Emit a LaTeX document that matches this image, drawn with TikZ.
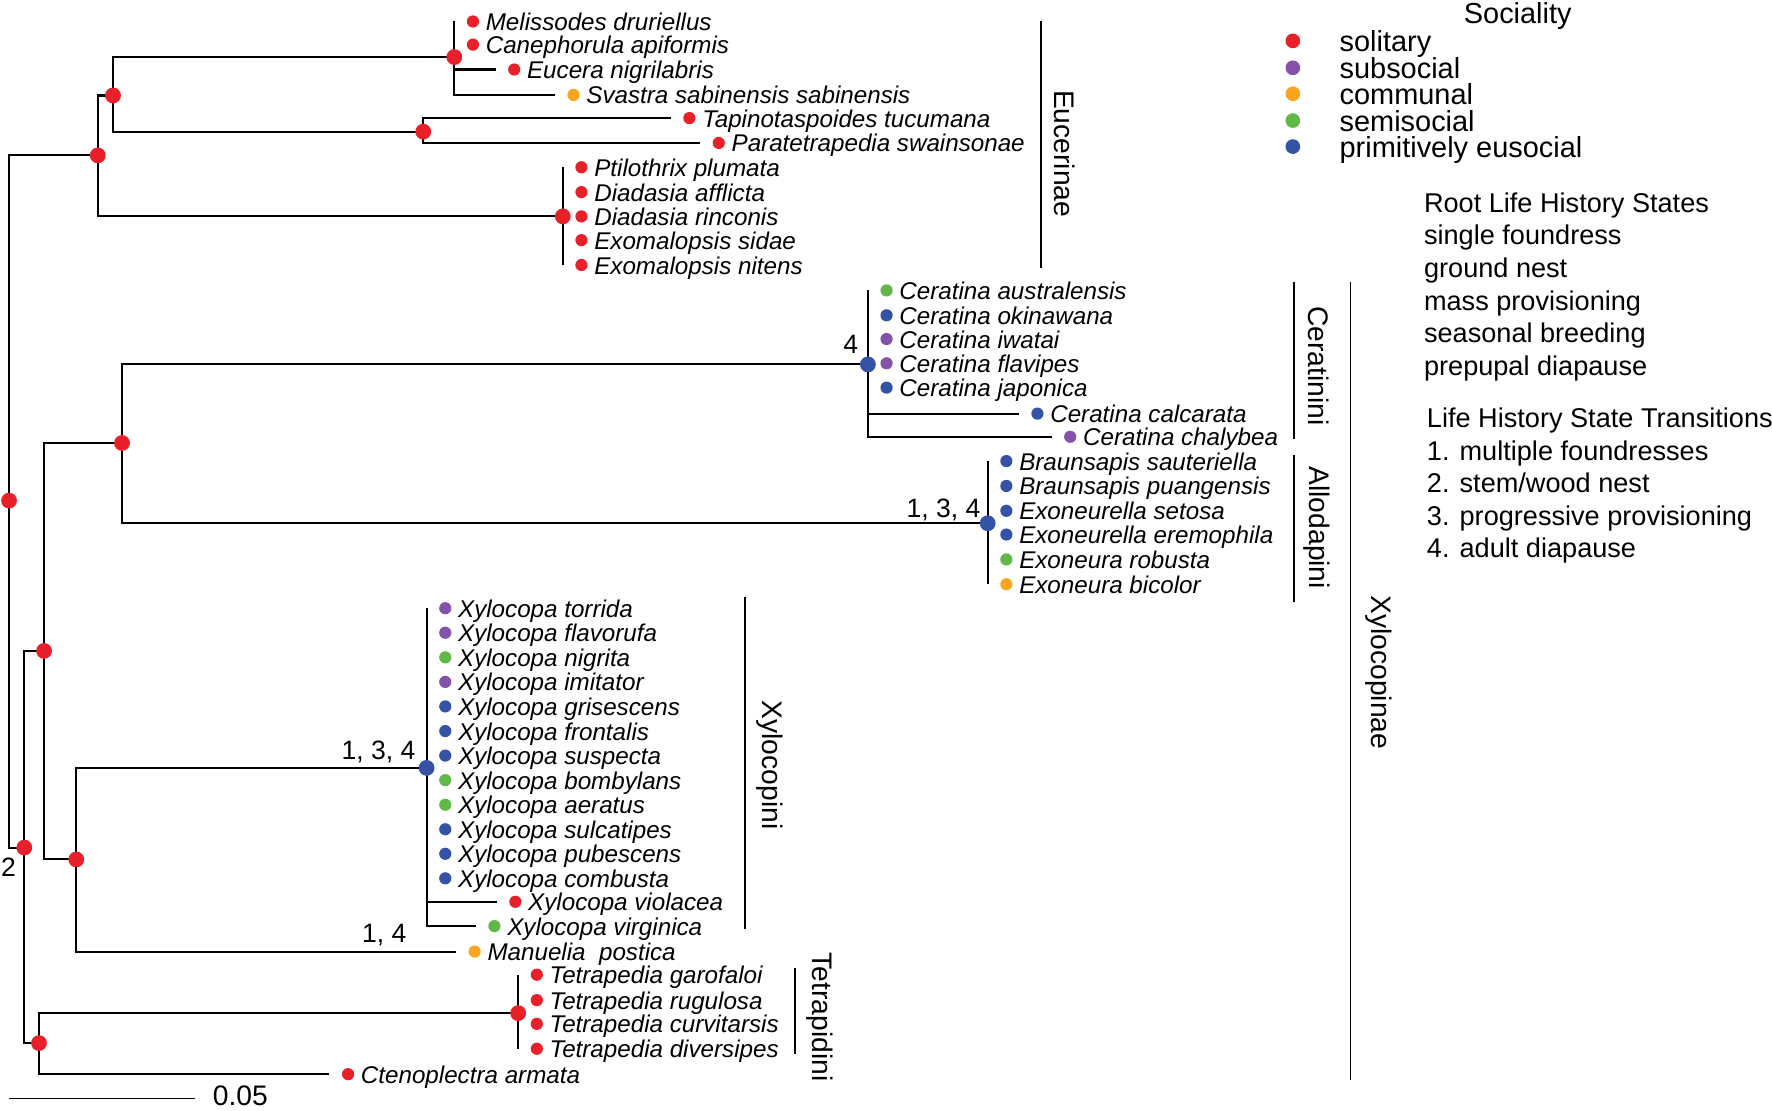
\documentclass[tikz,border=0pt]{standalone}
\usepackage{fontspec}
\setmainfont{Liberation Sans}
\definecolor{solred}{RGB}{232,32,42}
\definecolor{subpurple}{RGB}{132,82,168}
\definecolor{comorange}{RGB}{249,165,30}
\definecolor{semigreen}{RGB}{96,184,72}
\definecolor{eusblue}{RGB}{52,83,166}

\begin{document}
\begin{tikzpicture}[x=0.5pt,y=-0.5pt]
\tikzstyle{branch} = [line width=0.9pt]
\tikzstyle{bar} = [line width=0.75pt]
\tikzstyle{knot} = [circle, inner sep=0pt, minimum size=7pt]
\tikzstyle{tip} = [circle, inner sep=0pt, minimum size=5.4pt]
\tikzstyle{taxon} = [anchor=base west, inner sep=0pt, font=\fontsize{10.7}{12}\selectfont\itshape]
\tikzstyle{clade} = [rotate=-90, inner sep=0pt, font=\fontsize{12.5}{14}\selectfont]
\tikzstyle{num} = [inner sep=0pt, font=\fontsize{11.75}{13}\selectfont]
\tikzstyle{legend} = [anchor=base west, inner sep=0pt, font=\fontsize{12.8}{14}\selectfont]
\tikzstyle{state} = [anchor=base west, inner sep=0pt, font=\fontsize{12}{14}\selectfont]
\useasboundingbox (0,0) rectangle (1568,983);

\coordinate (root) at (8,443);
\coordinate (eucA) at (86.5,137.5);
\coordinate (eucB) at (100,84.5);
\coordinate (eucC) at (402,50.5);
\coordinate (eucD) at (374.5,116.5);
\coordinate (eucE) at (498,191.5);
\coordinate (nd2) at (21.5,750);
\coordinate (xylH) at (39,576);
\coordinate (cerG) at (108,392);
\coordinate (cerJ) at (768,322.5);
\coordinate (allK) at (874,463);
\coordinate (xyI) at (67.5,760.5);
\coordinate (xyM) at (377.5,679.5);
\coordinate (tetL) at (34.5,923);
\coordinate (tetN) at (458.5,896.5);

\foreach \n/\p/\x/\y/\col/\t in {
  mel/eucC/418.5/19/solred/Melissodes druriellus,
  can/eucC/418.5/39.5/solred/Canephorula apiformis,
  euc/eucC/455/61.5/solred/Eucera nigrilabris,
  sva/eucC/507.5/84/comorange/Svastra sabinensis sabinensis,
  tap/eucD/610/104.5/solred/Tapinotaspoides tucumana,
  par/eucD/636/126.5/solred/Paratetrapedia swainsonae,
  pti/eucE/514.5/148/solred/Ptilothrix plumata,
  daf/eucE/514.5/170/solred/Diadasia afflicta,
  dri/eucE/514.5/191.5/solred/Diadasia rinconis,
  esi/eucE/514.5/212.5/solred/Exomalopsis sidae,
  eni/eucE/514.5/234.5/solred/Exomalopsis nitens,
  caus/cerJ/784.5/257/semigreen/Ceratina australensis,
  coki/cerJ/784.5/279/eusblue/Ceratina okinawana,
  ciwa/cerJ/784.5/300/subpurple/Ceratina iwatai,
  cfla/cerJ/784.5/321.5/subpurple/Ceratina flavipes,
  cjap/cerJ/784.5/343/eusblue/Ceratina japonica,
  ccal/cerJ/918/366/eusblue/Ceratina calcarata,
  ccha/cerJ/947/386.5/subpurple/Ceratina chalybea,
  bsau/allK/890.5/408/eusblue/Braunsapis sauteriella,
  bpua/allK/890.5/430/eusblue/Braunsapis puangensis,
  eset/allK/890.5/452/eusblue/Exoneurella setosa,
  eere/allK/890.5/473/eusblue/Exoneurella eremophila,
  erob/allK/890.5/495/semigreen/Exoneura robusta,
  ebic/allK/890.5/517/comorange/Exoneura bicolor,
  xtor/xyM/394/538.2/subpurple/Xylocopa torrida,
  xfla/xyM/394/559.9/subpurple/Xylocopa flavorufa,
  xnig/xyM/394/581.7/semigreen/Xylocopa nigrita,
  ximi/xyM/394/603.4/subpurple/Xylocopa imitator,
  xgri/xyM/394/625.1/eusblue/Xylocopa grisescens,
  xfro/xyM/394/646.9/eusblue/Xylocopa frontalis,
  xsus/xyM/394/668.6/eusblue/Xylocopa suspecta,
  xbom/xyM/394/690.3/semigreen/Xylocopa bombylans,
  xaer/xyM/394/712.1/semigreen/Xylocopa aeratus,
  xsul/xyM/394/733.8/eusblue/Xylocopa sulcatipes,
  xpub/xyM/394/755.5/eusblue/Xylocopa pubescens,
  xcom/xyM/394/777.2/eusblue/Xylocopa combusta,
  xvio/xyM/456/798/solred/Xylocopa violacea,
  xvir/xyM/437.5/819.5/semigreen/Xylocopa virginica,
  mpos/xyI/420/842/comorange/Manuelia~ postica,
  tgar/tetN/475/862.5/solred/Tetrapedia garofaloi,
  trug/tetN/475/885/solred/Tetrapedia rugulosa,
  tcur/tetN/475/906/solred/Tetrapedia curvitarsis,
  tdiv/tetN/475/928/solred/Tetrapedia diversipes,
  cten/tetL/308/950.5/solred/Ctenoplectra armata}
{
  \node[tip, fill=\col] (\n) at (\x,\y) {};
  \draw[branch] (\p) |- ([xshift=-8.25pt]\n.center);
  \node[taxon] (\n-t) at ([xshift=5.5pt,yshift=-4pt]\n.center) {\t};
}

\draw[branch] (root) |- (eucA) (root) |- (nd2)
  (eucA) |- (eucB) (eucA) |- (eucE)
  (eucB) |- (eucC) (eucB) |- (eucD)
  (nd2) |- (xylH) (nd2) |- (tetL)
  (xylH) |- (cerG) (xylH) |- (xyI)
  (cerG) |- (cerJ) (cerG) |- (allK)
  (xyI) |- (xyM) (tetL) |- (tetN);

\foreach \k/\col in {root/solred, eucA/solred, eucB/solred, eucC/solred,
  eucD/solred, eucE/solred, nd2/solred, xylH/solred, cerG/solred,
  cerJ/eusblue, allK/eusblue, xyI/solred, xyM/eusblue, tetL/solred, tetN/solred}
  \node[knot, fill=\col] (\k-dot) at (\k) {};

\node[num, anchor=base] (n4) at (752.7,313) {4};
\node[num, anchor=base east] (n134a) at (868,458) {1, 3, 4};
\node[num, anchor=base east] (n134b) at (368,672) {1, 3, 4};
\node[num, anchor=base] (n14) at (340,834) {1, 4};
\node[num, anchor=base] (n2) at (7.6,775.5) {2};

\draw[bar] (921,19) -- (921,237.5);
\node[clade] (eucerinae) at (942,136) {Eucerinae};
\draw[bar] (1145,249.5) -- (1145,388.5);
\node[clade] (ceratinini) at (1166.5,324) {Ceratinini};
\draw[bar] (1145,402.5) -- (1145,532.5);
\node[clade] (allodapini) at (1165,467) {Allodapini};
\draw[bar] (1195,249.5) -- (1195,955.5);
\node[clade] (xylocopinae) at (1220,595) {Xylocopinae};
\draw[bar] (659,528) -- (659,822);
\node[clade] (xylocopini) at (681,677) {Xylocopini};
\draw[bar] (703.5,856.5) -- (703.5,933);
\node[clade] (tetrapidini) at (725.5,900) {Tetrapidini};

\draw[bar] (7.6,972) -- (172.7,972);
\node[legend, font=\fontsize{12.5}{14}\selectfont] (scale) at (188,978.5) {0.05};

\node[legend, anchor=base] (sociality) at (1343,21) {Sociality};
\foreach \col/\t/\y in {solred/solitary/36.2, subpurple/subsocial/60,
  comorange/communal/83, semigreen/semisocial/106.7, eusblue/primitively eusocial/129.7}
{
  \node[circle, inner sep=0pt, minimum size=6.5pt, fill=\col] (leg-\col) at (1144,\y) {};
  \node[legend] (leg-\col-t) at ([xshift=20.5pt,yshift=-4.75pt]leg-\col.center) {\t};
}

\foreach \t [count=\i] in {Root Life History States, single foundress, ground nest,
  mass provisioning, seasonal breeding, prepupal diapause}
  \node[state] (root-\i) at (1259.7,{188+28.8*(\i-1)}) {\t};
\foreach \t [count=\i] in {Life History State Transitions, 1. multiple foundresses,
  2. stem/wood nest, 3. progressive provisioning, 4. adult diapause}
  \node[state] (trans-\i) at (1262.3,{378.5+28.75*(\i-1)}) {\t};
\end{tikzpicture}
\end{document}
